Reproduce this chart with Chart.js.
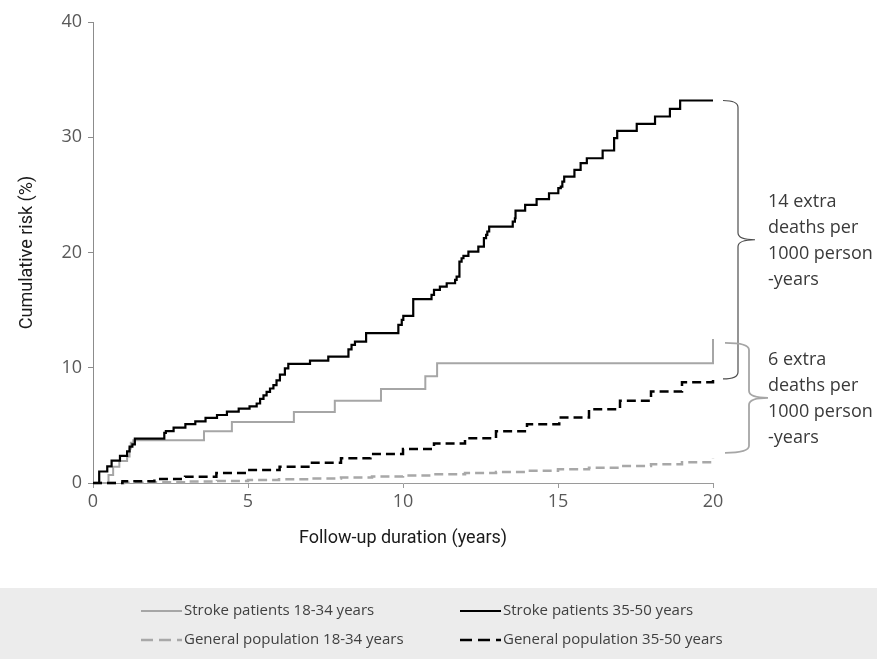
<!DOCTYPE html>
<html>
<head>
<meta charset="utf-8">
<script src="https://cdn.jsdelivr.net/npm/chart.js@4.4.1/dist/chart.umd.min.js"></script>
<style>
  html, body { margin: 0; padding: 0; background: #ffffff; }
  canvas { display: block; }
</style>
</head>
<body>
<canvas id="c" width="877" height="659"></canvas>
<script>
// ---------------- DATA ----------------
const seriesLabels = [
  "Stroke patients 18-34 years",
  "Stroke patients 35-50 years",
  "General population 18-34 years",
  "General population 35-50 years"
];

// Stroke patients 18-34 years (step times in years, cumulative risk %)
const strokeYoungTime = [0, 0.5, 0.65, 0.85, 1.1, 1.18, 1.22, 1.3, 3.58, 4.48, 6.48, 7.8, 9.29, 10.72, 11.1, 20, 20];
const strokeYoungRisk = [0, 0.7, 1.4, 1.9, 2.3, 3.0, 3.5, 3.7, 4.5, 5.3, 6.15, 7.13, 8.15, 9.26, 10.4, 10.4, 12.5];

// Stroke patients 35-50 years
const strokeOldTime = [0, 0.2, 0.46, 0.6, 0.87, 1.1, 1.18, 1.27, 1.35, 2.3, 2.35, 2.6, 2.98, 3.3, 3.63, 4.0, 4.32, 4.7,
  5.05, 5.28, 5.39, 5.5, 5.6, 5.71, 5.82, 5.92, 6.03, 6.19, 6.3, 7.0, 7.59, 8.24, 8.34, 8.45, 8.81, 9.85, 9.96, 10.01,
  10.33, 10.92, 11.0, 11.19, 11.41, 11.68, 11.73, 11.82, 11.89, 11.95, 12.11, 12.43, 12.61, 12.68, 12.72, 12.78, 13.54,
  13.61, 13.63, 13.94, 14.31, 14.71, 15.01, 15.09, 15.14, 15.2, 15.53, 15.73, 15.93, 16.44, 16.81, 16.91, 17.54, 18.13,
  18.61, 18.94, 20];
const strokeOldRisk = [0, 1.0, 1.45, 1.95, 2.35, 2.75, 3.15, 3.35, 3.85, 4.35, 4.5, 4.8, 5.1, 5.35, 5.65, 5.9, 6.2, 6.45,
  6.65, 6.9, 7.3, 7.6, 7.9, 8.2, 8.5, 8.9, 9.4, 9.95, 10.33, 10.62, 10.97, 11.6, 11.98, 12.27, 13.0, 13.72, 14.15, 14.5,
  15.95, 16.32, 16.75, 17.04, 17.33, 17.62, 17.91, 19.21, 19.5, 19.7, 20.08, 20.51, 21.24, 21.53, 21.82, 22.25, 22.68,
  22.97, 23.64, 24.13, 24.63, 25.14, 25.58, 25.72, 26.15, 26.59, 27.17, 27.75, 28.18, 28.85, 29.92, 30.56, 31.16, 31.8,
  32.47, 33.19, 33.19];

// General population 18-34 years
const genYoungTime = [0, 1, 2, 3, 4, 5, 6, 7, 8, 9, 10, 11, 12, 13, 14, 15, 16, 17, 18, 19, 20];
const genYoungRisk = [0, 0.03, 0.07, 0.12, 0.18, 0.25, 0.32, 0.4, 0.48, 0.57, 0.66, 0.76, 0.86, 0.96, 1.07, 1.2, 1.33, 1.47, 1.62, 1.8, 2.1];

// General population 35-50 years
const genOldTime = [0, 0.95, 1.98, 2.97, 3.98, 4.97, 6.02, 6.99, 8.0, 8.95, 10.0, 11.0, 12.0, 13.0, 14.0, 15.04, 16.0, 17.0, 18.0, 19.0, 20];
const genOldRisk = [0, 0.15, 0.35, 0.55, 0.87, 1.12, 1.42, 1.76, 2.14, 2.52, 2.95, 3.42, 3.88, 4.5, 5.1, 5.68, 6.4, 7.13, 7.93, 8.75, 9.2];

const xTickValues = [0, 5, 10, 15, 20];
const yTickValues = [0, 10, 20, 30, 40];

const xTitle = "Follow-up duration (years)";
const yTitle = "Cumulative risk (%)";
const braceTexts = [
  ["14 extra", "deaths per", "1000 person", "-years"],
  ["6 extra", "deaths per", "1000 person", "-years"]
];

// ---------------- HELPERS ----------------
function pts(t, r) { return t.map((v, i) => ({ x: v, y: r[i] })); }
const last = a => a[a.length - 1];

const GREY_LINE = '#a6a6a6';
const TICK_FONT = { family: "'Open Sans', 'Noto Sans', sans-serif", size: 18 };
const TITLE_FONT = { family: "Roboto, 'Open Sans', sans-serif", size: 18, weight: '400' };

const bracePlugin = {
  id: 'braces',
  afterDatasetsDraw(chart) {
    const { ctx, chartArea, scales: { y } } = chart;
    const R = chartArea.right;
    function brace(yTop, yBot, xEnd, xSpine, xTip, color, width) {
      const yMid = (yTop + yBot) / 2, r = 7;
      ctx.save();
      ctx.strokeStyle = color; ctx.lineWidth = width; ctx.lineJoin = 'round';
      ctx.beginPath();
      ctx.moveTo(xEnd, yTop);
      ctx.quadraticCurveTo(xSpine, yTop, xSpine, yTop + r);
      ctx.lineTo(xSpine, yMid - r);
      ctx.quadraticCurveTo(xSpine, yMid, xTip, yMid);
      ctx.moveTo(xTip, yMid);
      ctx.quadraticCurveTo(xSpine, yMid, xSpine, yMid + r);
      ctx.lineTo(xSpine, yBot - r);
      ctx.quadraticCurveTo(xSpine, yBot, xEnd, yBot);
      ctx.stroke();
      ctx.restore();
      return yMid;
    }
    function text(lines, x, yMid) {
      ctx.save();
      ctx.fillStyle = '#3a3a3a';
      ctx.font = "18px 'Open Sans', 'Noto Sans', sans-serif";
      ctx.textAlign = 'left'; ctx.textBaseline = 'middle';
      lines.forEach((s, i) => ctx.fillText(s, x, yMid + (i - 1.5) * 26 + 1));
      ctx.restore();
    }
    const m1 = brace(y.getPixelForValue(last(strokeOldRisk)), y.getPixelForValue(last(genOldRisk)) + 2,
      R + 10, R + 25, R + 42, '#4d4d4d', 1.2);
    const m2 = brace(y.getPixelForValue(last(strokeYoungRisk)) + 4, y.getPixelForValue(last(genYoungRisk)) - 6,
      R + 12, R + 36, R + 55, GREY_LINE, 1.8);
    text(braceTexts[0], R + 55, m1);
    text(braceTexts[1], R + 55, m2);
  }
};

const legendPlugin = {
  id: 'gridLegend',
  afterDraw(chart) {
    const { ctx, width, height } = chart;
    const bandTop = 588;
    ctx.save();
    ctx.fillStyle = '#ececec';
    ctx.fillRect(0, bandTop, width, height - bandTop);
    const cols = [141, 460], rows = [611, 640], lineLen = 41;
    chart.data.datasets.forEach((ds, i) => {
      const x = cols[i % 2], yy = rows[Math.floor(i / 2)];
      ctx.beginPath();
      ctx.strokeStyle = ds.borderColor;
      ctx.lineWidth = ds.borderWidth;
      ctx.setLineDash(ds.borderDash && ds.borderDash.length ? [12, 6] : []);
      ctx.moveTo(x, yy); ctx.lineTo(x + lineLen, yy);
      ctx.stroke();
      ctx.setLineDash([]);
      ctx.fillStyle = '#404040';
      ctx.font = "15px 'Open Sans', 'Noto Sans', sans-serif";
      ctx.textAlign = 'left'; ctx.textBaseline = 'middle';
      ctx.fillText(ds.label, x + lineLen + 2, yy);
    });
    ctx.restore();
  }
};

const baseDs = { pointRadius: 0, pointHoverRadius: 0, stepped: 'before', tension: 0, fill: false, clip: false };

new Chart(document.getElementById('c'), {
  type: 'line',
  data: {
    datasets: [
      { ...baseDs, label: seriesLabels[0], data: pts(strokeYoungTime, strokeYoungRisk), borderColor: GREY_LINE, borderWidth: 2, order: 2 },
      { ...baseDs, label: seriesLabels[1], data: pts(strokeOldTime, strokeOldRisk), borderColor: '#000000', borderWidth: 2.2, order: 0 },
      { ...baseDs, label: seriesLabels[2], data: pts(genYoungTime, genYoungRisk), borderColor: '#a8a8a8', borderWidth: 2.5, borderDash: [9, 5], order: 3 },
      { ...baseDs, label: seriesLabels[3], data: pts(genOldTime, genOldRisk), borderColor: '#000000', borderWidth: 2.5, borderDash: [9, 5], order: 1 }
    ]
  },
  options: {
    responsive: false,
    animation: false,
    devicePixelRatio: 1,
    layout: { padding: { left: 0, top: 22, right: 164, bottom: 96 } },
    plugins: { legend: { display: false }, tooltip: { enabled: false } },
    scales: {
      x: {
        type: 'linear', min: 0, max: 20,
        afterBuildTicks: s => { s.ticks = xTickValues.map(v => ({ value: v })); },
        afterFit: s => { s.height = 80; },
        grid: { display: true, drawOnChartArea: false, drawTicks: true, tickLength: 5, color: '#9a9a9a' },
        border: { display: true, color: '#9a9a9a', width: 1 },
        ticks: { font: TICK_FONT, color: '#595959', padding: 3, maxRotation: 0 },
        title: { display: true, text: xTitle, font: TITLE_FONT, color: '#1a1a1a', padding: { top: 0, bottom: 14 } }
      },
      y: {
        type: 'linear', min: 0, max: 40,
        afterBuildTicks: s => { s.ticks = yTickValues.map(v => ({ value: v })); },
        afterFit: s => { s.width = 93; },
        grid: { display: true, drawOnChartArea: false, drawTicks: true, tickLength: 5, color: '#8c8c8c' },
        border: { display: true, color: '#8c8c8c', width: 1 },
        ticks: { font: TICK_FONT, color: '#595959', padding: 6 },
        title: { display: true, text: yTitle, font: TITLE_FONT, color: '#1a1a1a', padding: { top: 17, bottom: 0 } }
      }
    }
  },
  plugins: [bracePlugin, legendPlugin]
});
</script>
</body>
</html>
